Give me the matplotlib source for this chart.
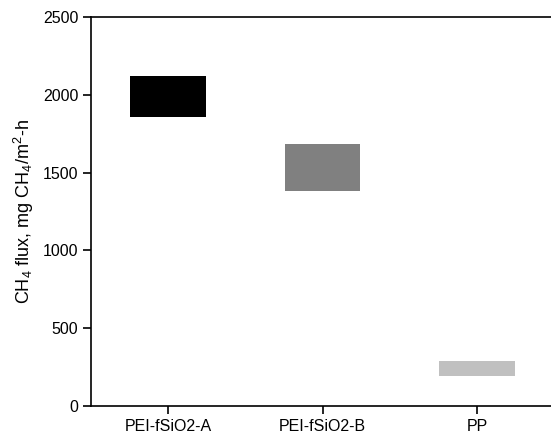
import numpy as np
import matplotlib
matplotlib.use('Agg')
import matplotlib.pyplot as plt

plt.rcParams['font.family'] = ['Liberation Sans', 'DejaVu Sans']
plt.rcParams['mathtext.default'] = 'regular'

categories = ['PEI-fSiO2-A', 'PEI-fSiO2-B', 'PP']
low = [1860, 1380, 190]
high = [2122, 1685, 287]
COLORS = ['#000000', '#808080', '#c0c0c0']


def plot():
    fig = plt.figure(figsize=(5.51, 4.37), dpi=100)
    ax = fig.add_axes([0.165, 0.071, 0.841, 0.890])

    x = np.arange(len(categories))
    heights = np.array(high) - np.array(low)
    ax.bar(x, heights, bottom=low, width=0.49, color=COLORS, edgecolor='none')

    ax.set_xlim(-0.5, 2.5)
    ax.set_ylim(0, 2500)
    ax.set_yticks(np.arange(0, 2501, 500))
    ax.set_xticks(x)
    ax.set_xticklabels(categories)

    ax.spines['right'].set_visible(False)
    for s in ['left', 'bottom', 'top']:
        ax.spines[s].set_linewidth(1.2)

    ax.tick_params(axis='both', direction='out', length=6, width=1.2, labelsize=11.5)
    ax.tick_params(axis='y', right=False, pad=3)
    ax.set_ylabel('CH$_4$ flux, mg CH$_4$/m$^2$-h', fontsize=13, labelpad=5)

    fig.savefig('out.png', dpi=100)


plot()
